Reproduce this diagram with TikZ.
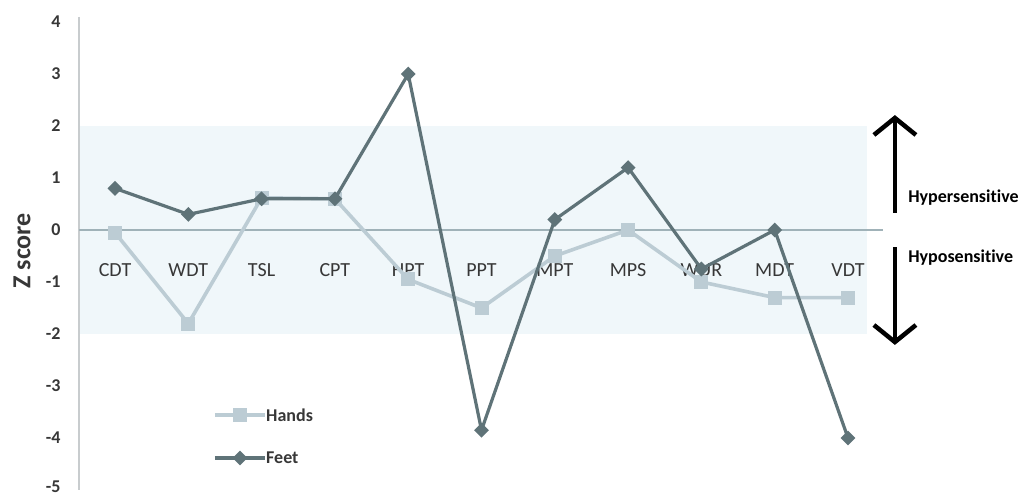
\documentclass[tikz,border=0pt]{standalone}
\usepackage{fontspec}
\setmainfont{Carlito}[Ligatures=NoCommon]
\usetikzlibrary{arrows.meta,shapes.geometric}

\definecolor{feetgray}{RGB}{95,115,120}
\definecolor{handgray}{RGB}{188,204,212}
\definecolor{bandblue}{RGB}{240,247,250}
\definecolor{zerogray}{RGB}{160,178,184}
\definecolor{axisgray}{RGB}{200,204,206}
\definecolor{labelgray}{RGB}{55,55,55}

\tikzset{
  feetline/.style={feetgray, line width=3.2pt, line join=round},
  handline/.style={handgray, line width=3.6pt, line join=round},
  feetmark/.style={diamond, fill=feetgray, minimum size=15pt, inner sep=0pt},
  handmark/.style={rectangle, fill=handgray, minimum size=14pt, inner sep=0pt},
  catlabel/.style={font=\fontsize{20}{24}\selectfont, text=labelgray},
  ticklabel/.style={font=\bfseries\fontsize{18}{22}\selectfont, text=labelgray, anchor=east},
  sidelabel/.style={font=\bfseries\fontsize{18}{22}\selectfont, anchor=west},
  bigarrow/.style={line width=4.5pt, -{Straight Barb[length=17pt, width=42pt]}}
}

\begin{document}
\begin{tikzpicture}[x=73.3pt, y=52pt]

    \useasboundingbox (-0.569,-5.154) rectangle (13.565,4.423);

    % band and axes
    \fill [bandblue] (0.509,-2) rectangle (11.26,2);
    \draw [axisgray, line width=1.5pt] (0.509,4.1) -- (0.509,-5);
    \draw [zerogray, line width=1.5pt] (0.509,0) -- (11.48,0);

    % y ticks
    \foreach \t in {4,3,...,-4}
        \node [ticklabel] (tick\t) at (0.304,\t) {\t};
    \node [ticklabel] (tickmin5) at (0.304,-4.93) {-5};
    \node [rotate=90, font=\bfseries\fontsize{26}{30}\selectfont, text=labelgray] (zlabel) at (-0.269,-0.40) {Z score};

    % categories
    \node [catlabel] (cdt) at (1,-0.77) {CDT};
    \node [catlabel] (wdt) at (2,-0.77) {WDT};
    \node [catlabel] (tsl) at (3,-0.77) {TSL};
    \node [catlabel] (cpt) at (4,-0.77) {CPT};
    \node [catlabel] (hpt) at (5,-0.77) {HPT};
    \node [catlabel] (ppt) at (6,-0.77) {PPT};
    \node [catlabel] (mpt) at (7,-0.77) {MPT};
    \node [catlabel] (mps) at (8,-0.77) {MPS};
    \node [catlabel] (wur) at (9,-0.77) {WUR};
    \node [catlabel] (mdt) at (10,-0.77) {MDT};
    \node [catlabel] (vdt) at (11,-0.77) {VDT};

    % hands
    \coordinate (h1) at (1,-0.05);  \coordinate (h2) at (2,-1.8);
    \coordinate (h3) at (3,0.62);   \coordinate (h4) at (4,0.6);
    \coordinate (h5) at (5,-0.95);  \coordinate (h6) at (6,-1.5);
    \coordinate (h7) at (7,-0.5);   \coordinate (h8) at (8,0);
    \coordinate (h9) at (9,-1);     \coordinate (h10) at (10,-1.3);
    \coordinate (h11) at (11,-1.3);
    \draw [handline] (h1) -- (h2) -- (h3) -- (h4) -- (h5) -- (h6) -- (h7)
        -- (h8) -- (h9) -- (h10) -- (h11);
    \foreach \i in {1,...,11}
        \node [handmark] (hm\i) at (h\i) {};

    % feet
    \coordinate (f1) at (1,0.8);    \coordinate (f2) at (2,0.3);
    \coordinate (f3) at (3,0.6);    \coordinate (f4) at (4,0.6);
    \coordinate (f5) at (5,3);      \coordinate (f6) at (6,-3.85);
    \coordinate (f7) at (7,0.2);    \coordinate (f8) at (8,1.2);
    \coordinate (f9) at (9,-0.75);  \coordinate (f10) at (10,0);
    \coordinate (f11) at (11,-4);
    \draw [feetline] (f1) -- (f2) -- (f3) -- (f4) -- (f5) -- (f6) -- (f7)
        -- (f8) -- (f9) -- (f10) -- (f11);
    \foreach \i in {1,...,11}
        \node [feetmark] (fm\i) at (f\i) {};

    % legend
    \coordinate (lh0) at (2.364,-3.558);
    \coordinate (lh1) at (3.046,-3.558);
    \draw [handline] (lh0) -- (lh1);
    \node [handmark] (lhm) at (2.705,-3.558) {};
    \node [font=\bfseries\fontsize{18}{21}\selectfont, text=labelgray, anchor=west, inner sep=0pt] (lhands) at (3.06,-3.558) {Hands};
    \coordinate (lf0) at (2.364,-4.385);
    \coordinate (lf1) at (3.046,-4.385);
    \draw [feetline] (lf0) -- (lf1);
    \node [feetmark] (lfm) at (2.705,-4.385) {};
    \node [font=\bfseries\fontsize{18}{21}\selectfont, text=labelgray, anchor=west, inner sep=0pt] (lfeet) at (3.06,-4.385) {Feet};

    % sensitivity arrows
    \coordinate (uplow) at (11.64,0.33);
    \coordinate (uptop) at (11.64,2.21);
    \coordinate (downtop) at (11.64,-0.33);
    \coordinate (downlow) at (11.64,-2.21);
    \draw [bigarrow] (uplow) -- (uptop);
    \draw [bigarrow] (downtop) -- (downlow);
    \node [sidelabel, inner sep=0pt] (hyper) at (11.82,0.615) {Hypersensitive};
    \node [sidelabel, inner sep=0pt] (hypo) at (11.82,-0.54) {Hyposensitive};

\end{tikzpicture}
\end{document}
